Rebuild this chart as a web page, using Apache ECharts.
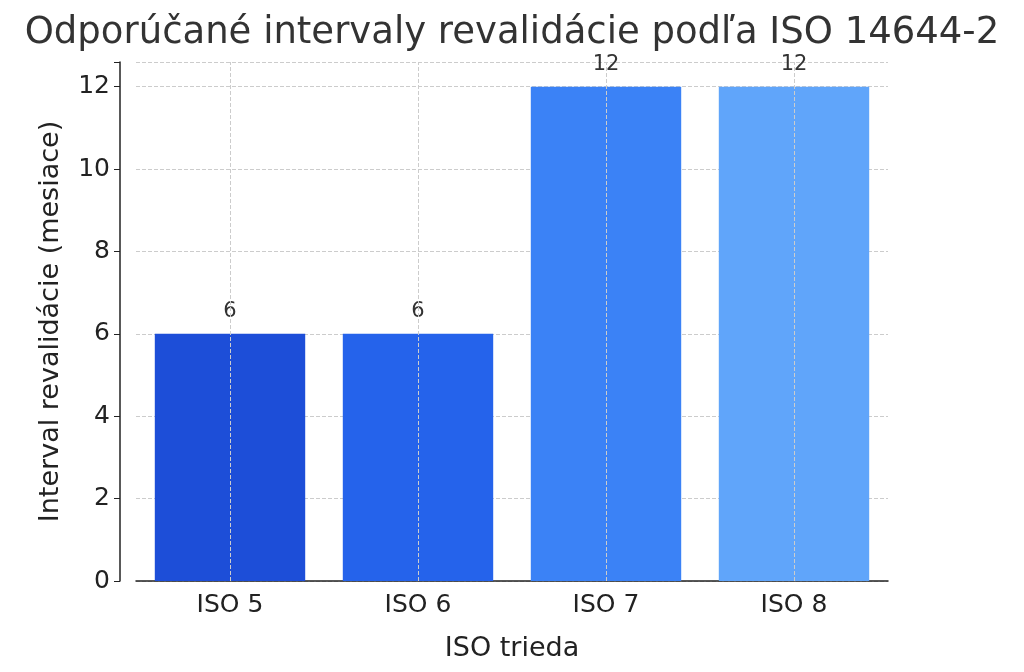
<!DOCTYPE html>
<html>
<head>
<meta charset="utf-8">
<script src="https://cdn.jsdelivr.net/npm/echarts@6/dist/echarts.min.js"></script>
<style>html,body{margin:0;background:#fff}#chart{width:1024px;height:672px}</style>
</head>
<body>
<div id="chart"></div>
<script>
var categories = ['ISO 5', 'ISO 6', 'ISO 7', 'ISO 8'];
var intervals = [6, 6, 12, 12];
var barColors = ['#1d4ed8', '#2563eb', '#3b82f6', '#60a5fa'];

var chart = echarts.init(document.getElementById('chart'));
var font = 'DejaVu Sans';
var option = {
    animation: false,
    title: {
        text: 'Odporúčané intervaly revalidácie podľa ISO 14644-2',
        left: 'center', top: 10,
        textStyle: { fontFamily: font, fontSize: 37, fontWeight: 'normal', color: '#333' }
    },
    grid: { left: 136, right: 136, top: 62, bottom: 91 },
    xAxis: {
        type: 'category',
        data: categories,
        name: 'ISO trieda', nameLocation: 'middle', nameGap: 54,
        nameTextStyle: { fontFamily: font, fontSize: 27, color: '#222' },
        axisLine: { lineStyle: { color: '#222', width: 1.5 } },
        axisTick: { alignWithLabel: true, length: 6, lineStyle: { color: '#222' } },
        axisLabel: { fontFamily: font, fontSize: 25, color: '#222', margin: 12 }
    },
    yAxis: {
        type: 'value', min: 0, max: 12.6, interval: 2, offset: 16,
        name: 'Interval revalidácie (mesiace)', nameLocation: 'middle', nameGap: 56,
        nameTextStyle: { fontFamily: font, fontSize: 27, color: '#222' },
        axisLine: { show: true, lineStyle: { color: '#222', width: 1.5 } },
        axisTick: { show: true, length: 6, lineStyle: { color: '#222' } },
        axisLabel: {
            fontFamily: font, fontSize: 25, color: '#222', margin: 10,
            formatter: function (v) { return v % 2 === 0 ? v : ''; }
        },
        splitLine: { lineStyle: { color: '#ccc', type: 'dashed' } }
    },
    series: [{
        type: 'bar',
        barWidth: '80%',
        data: intervals.map(function (v, i) { return { value: v, itemStyle: { color: barColors[i] } }; }),
        label: { show: true, position: 'top', distance: 12, fontFamily: font, fontSize: 21, color: '#333' },
        markLine: {
            silent: true, symbol: 'none', label: { show: false },
            lineStyle: { color: '#ccc', type: 'dashed', width: 1 },
            data: categories.map(function (c) { return { xAxis: c }; })
        }
    }]
};
chart.setOption(option);
</script>
</body>
</html>
